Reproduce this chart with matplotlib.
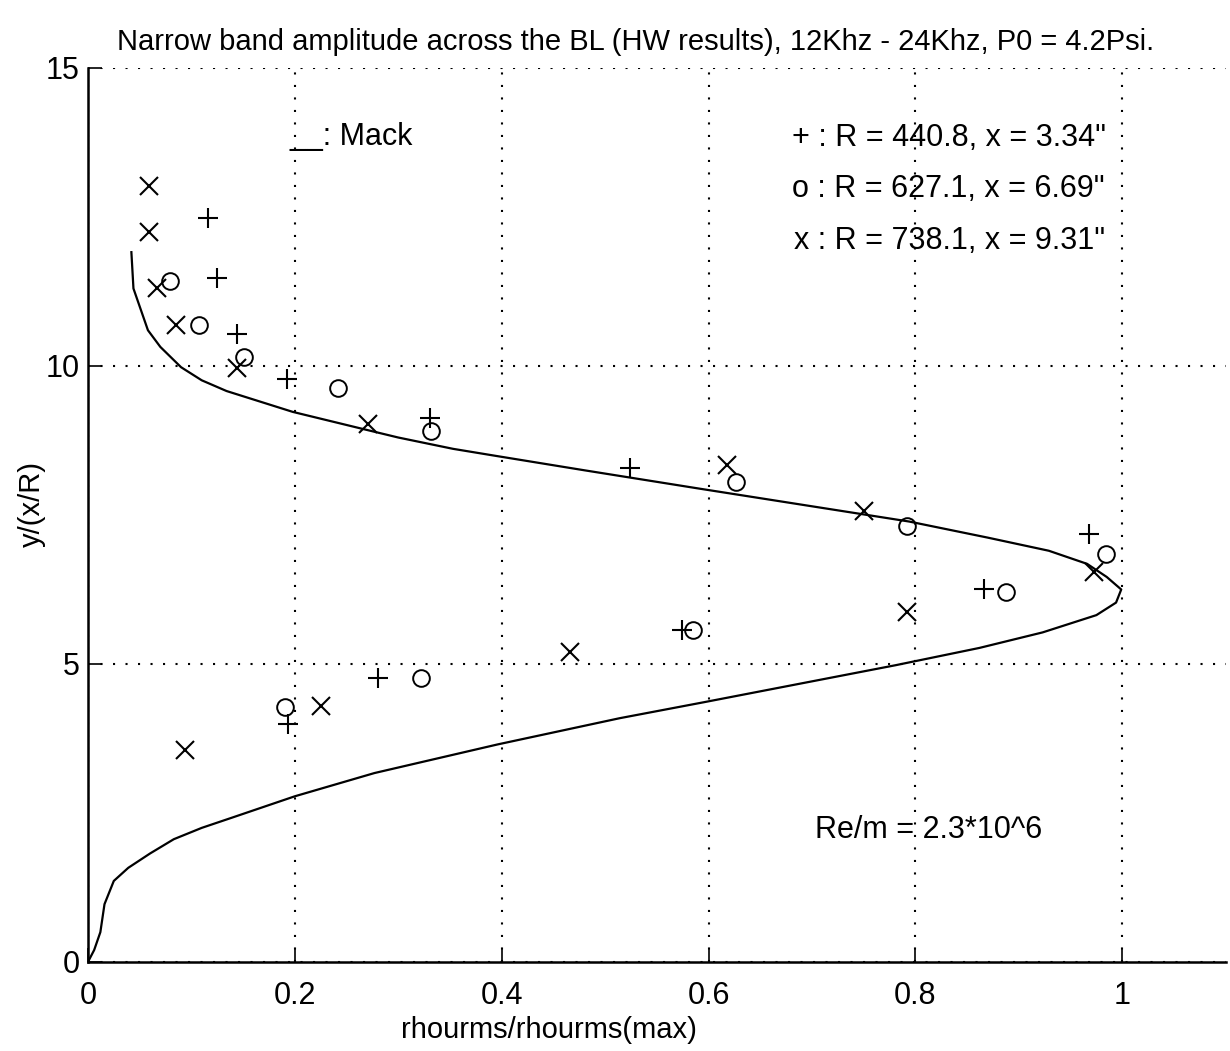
import matplotlib.pyplot as plt

# data
plus_x = [0.116, 0.125, 0.144, 0.192, 0.331, 0.524, 0.968, 0.866, 0.574, 0.280, 0.193]
plus_y = [12.48, 11.47, 10.54, 9.79, 9.12, 8.29, 7.18, 6.25, 5.57, 4.77, 3.99]

circ_x = [0.079, 0.107, 0.151, 0.242, 0.332, 0.627, 0.792, 0.984, 0.888, 0.585, 0.322, 0.191]
circ_y = [11.42, 10.69, 10.15, 9.63, 8.91, 8.06, 7.32, 6.84, 6.21, 5.57, 4.76, 4.27]

cross_x = [0.059, 0.059, 0.067, 0.085, 0.144, 0.271, 0.618, 0.750, 0.973, 0.792, 0.466, 0.225, 0.094]
cross_y = [13.02, 12.24, 11.31, 10.68, 9.96, 9.02, 8.34, 7.56, 6.54, 5.87, 5.20, 4.29, 3.56]

# Mack theory curve
mack_x = [0, 0.006, 0.012, 0.016, 0.025, 0.039, 0.060, 0.083, 0.110, 0.139, 0.200, 0.277,
          0.396, 0.514, 0.596, 0.781, 0.862, 0.923, 0.975, 0.994, 0.999, 0.985, 0.966,
          0.929, 0.870, 0.794, 0.592, 0.480, 0.395, 0.353, 0.300, 0.269, 0.198, 0.134,
          0.110, 0.090, 0.070, 0.058, 0.051, 0.044, 0.042]
mack_y = [0, 0.2, 0.5, 0.97, 1.36, 1.58, 1.82, 2.06, 2.25, 2.42, 2.78, 3.17,
          3.65, 4.09, 4.36, 4.98, 5.27, 5.53, 5.82, 6.03, 6.25, 6.46, 6.68,
          6.90, 7.12, 7.39, 7.94, 8.25, 8.49, 8.61, 8.80, 8.93, 9.23, 9.58,
          9.76, 9.98, 10.32, 10.60, 10.95, 11.30, 11.91]

xticks = [0, 0.2, 0.4, 0.6, 0.8, 1]
xticklabels = ["0", "0.2", "0.4", "0.6", "0.8", "1"]
yticks = [0, 5, 10, 15]

plt.rcParams['font.family'] = ['Liberation Sans', 'DejaVu Sans']

fig = plt.figure(figsize=(12.3, 10.51), dpi=100)
ax = fig.add_axes([0.0715, 0.0847, 0.925, 0.8506])

ax.plot(mack_x, mack_y, color='k', linewidth=1.6)
ax.plot(plus_x, plus_y, '+', color='k', markersize=14, markeredgewidth=1.5)
ax.plot(circ_x, circ_y, 'o', color='k', markerfacecolor='none', markersize=12, markeredgewidth=1.4)
ax.plot(cross_x, cross_y, 'x', color='k', markersize=13, markeredgewidth=1.5)

ax.set_xlim(0, 1.1)
ax.set_ylim(0, 15)
ax.set_xticks(xticks)
ax.set_xticklabels(xticklabels)
ax.set_yticks(yticks)
ax.tick_params(direction='in', length=10, width=1.2, labelsize=22)
ax.tick_params(axis='x', pad=14)
ax.tick_params(axis='y', pad=6)
ax.grid(True, color='k', linestyle=(0, (1, 5)), linewidth=1.5)
ax.spines['top'].set_visible(False)
ax.spines['right'].set_visible(False)
ax.spines['left'].set_linewidth(1.8)
ax.spines['bottom'].set_linewidth(1.8)

fig.text(0.446, 0.020, "rhourms/rhourms(max)", fontsize=21, ha='center', va='center')
fig.text(0.026, 0.52, "y/(x/R)", fontsize=21, ha='center', va='center', rotation=90)
fig.text(0.517, 0.960, "Narrow band amplitude across the BL (HW results), 12Khz - 24Khz, P0 = 4.2Psi.",
         fontsize=21, ha='center', va='center')

ax.text(0.195, 13.84, "__: Mack", fontsize=22, va='center')
ax.text(0.681, 13.83, '+ : R = 440.8, x = 3.34"', fontsize=22, va='center')
ax.text(0.681, 12.97, 'o : R = 627.1, x = 6.69"', fontsize=22, va='center')
ax.text(0.683, 12.10, 'x : R = 738.1, x = 9.31"', fontsize=22, va='center')
ax.text(0.703, 2.21, "Re/m = 2.3*10^6", fontsize=22, va='center')

plt.savefig("out.png")
